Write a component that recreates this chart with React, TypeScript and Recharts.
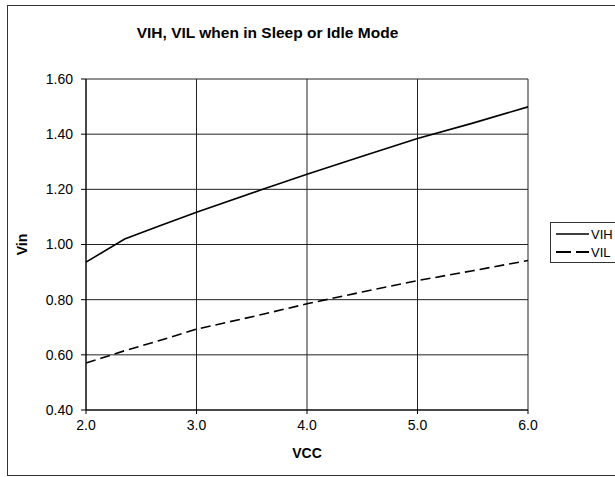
import React from "react";
import { LineChart, Line, XAxis, YAxis, CartesianGrid } from "recharts";

const vcc = [2.0, 2.35, 2.65, 3.0, 3.6, 4.0, 4.5, 5.0, 5.5, 6.0];
const vih = [0.936, 1.02, 1.065, 1.117, 1.2, 1.255, 1.32, 1.384, 1.44, 1.499];
const vil = [0.57, 0.615, 0.65, 0.693, 0.747, 0.785, 0.828, 0.869, 0.905, 0.942];
const xTicks = [2, 3, 4, 5, 6];
const yTicks = [0.4, 0.6, 0.8, 1.0, 1.2, 1.4, 1.6];

const data = vcc.map((v, i) => ({ vcc: v, VIH: vih[i], VIL: vil[i] }));

const FONT = "'Liberation Sans', Arial, sans-serif";

const LegendBox = () => (
  <div
    style={{
      position: "absolute",
      left: 550,
      top: 222,
      width: 80,
      height: 41,
      border: "1px solid #333",
      background: "#fff",
      boxSizing: "border-box",
    }}
  >
    <svg width={80} height={41} style={{ position: "absolute", left: 0, top: 0 }}>
      <line x1={5} x2={38} y1={11} y2={11} stroke="#000" strokeWidth={1.6} />
      <text x={40} y={15.5} fontFamily={FONT} fontSize={13} fill="#000">VIH</text>
      <line x1={5} x2={38} y1={29} y2={29} stroke="#000" strokeWidth={1.8} strokeDasharray="15 5" />
      <text x={40} y={33.5} fontFamily={FONT} fontSize={13} fill="#000">VIL</text>
    </svg>
  </div>
);

export default function App() {
  return (
    <div style={{ position: "absolute", left: 0, top: 0, width: 615, height: 477, background: "#fff", overflow: "hidden" }}>
      <div
        style={{
          position: "absolute",
          left: 7,
          top: 5,
          width: 620,
          height: 471,
          border: "1px solid #333",
          boxSizing: "border-box",
        }}
      />
      <div
        style={{
          position: "absolute",
          left: 0,
          top: 24,
          width: 535,
          textAlign: "center",
          fontFamily: FONT,
          fontWeight: "bold",
          fontSize: 15.5,
          lineHeight: "18px",
          color: "#000",
        }}
      >
        VIH, VIL when in Sleep or Idle Mode
      </div>
      <div style={{ position: "absolute", left: 0, top: 0 }}>
        <LineChart
          width={615}
          height={477}
          data={data}
          margin={{ top: 79, right: 87, bottom: 37, left: 36 }}
        >
          <CartesianGrid stroke="#222" strokeWidth={1} />
          <XAxis
            dataKey="vcc"
            type="number"
            domain={[2, 6]}
            ticks={xTicks}
            tickFormatter={(v: number) => v.toFixed(1)}
            height={30}
            tickSize={4}
            tickMargin={6}
            stroke="#000"
            tick={{ fill: "#000", fontFamily: FONT, fontSize: 14 }}
            label={{ value: "VCC", position: "insideBottom", offset: -18, style: { fontFamily: FONT, fontWeight: "bold", fontSize: 14, fill: "#000" } }}
          />
          <YAxis
            type="number"
            domain={[0.4, 1.6]}
            ticks={yTicks}
            tickFormatter={(v: number) => v.toFixed(2)}
            width={50}
            tickSize={5}
            tickMargin={8}
            stroke="#000"
            tick={{ fill: "#000", fontFamily: FONT, fontSize: 14 }}
            label={{ value: "Vin", angle: -90, position: "insideLeft", offset: -14, style: { fontFamily: FONT, fontWeight: "bold", fontSize: 14, fill: "#000", textAnchor: "middle" } }}
          />
          <Line dataKey="VIH" stroke="#000" strokeWidth={1.6} dot={false} isAnimationActive={false} />
          <Line dataKey="VIL" stroke="#000" strokeWidth={1.6} strokeDasharray="10 5" dot={false} isAnimationActive={false} />
        </LineChart>
      </div>
      <LegendBox />
    </div>
  );
}
